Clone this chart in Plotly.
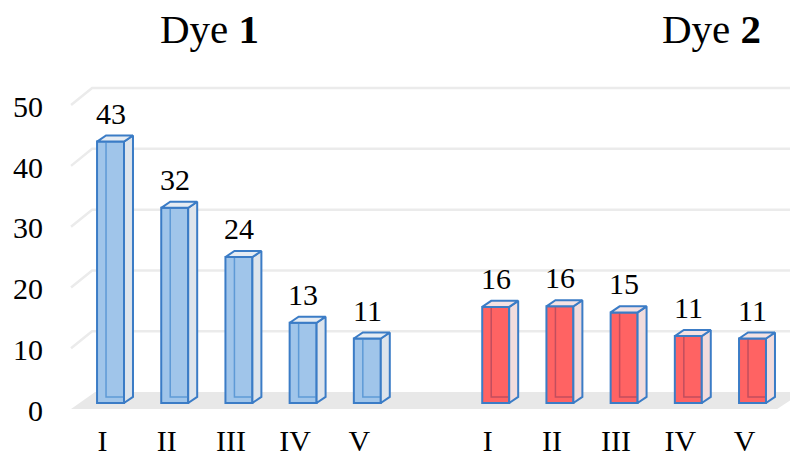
import plotly.graph_objects as go

# ---------------- data ----------------
groups = ["Dye 1", "Dye 2"]
categories = ["I", "II", "III", "IV", "V"]
dye1_values = [43.0, 32.1, 24.0, 13.2, 10.6]
dye2_values = [15.8, 15.9, 14.9, 11.0, 10.6]
y_ticks = [0, 10, 20, 30, 40, 50]

# ---------------- style / geometry ----------------
FONT = 'Liberation Serif, "Times New Roman", Times, serif'
BAR_W = 0.42          # front-face width (category units)
DEPTH_DX = 0.14       # bar depth offset, x (category units)
DEPTH_DY = 1.0        # bar depth offset, y (value units)
FRONT_DX, FRONT_DY = -0.125, -1.0   # label / floor-front plane offset
BACK_DY = 1.8                       # back-wall plane offset
X_MIN, X_MAX = -0.787, 10.584
Y_MIN, Y_MAX = -2.80, 53.95
GAP = 1  # empty slot between the two groups

styles = {
    "Dye 1": dict(front="#A0C5EA", side="#DDE4EC", top="#E6ECF3", inner="#5E9AD6"),
    "Dye 2": dict(front="#FF6363", side="#F1DCDD", top="#F4E2E3", inner="#C24E5E"),
}
EDGE = "#3B7CC6"

series = {"Dye 1": dye1_values, "Dye 2": dye2_values}

fig = go.Figure()

# positions of the categories
positions = {}
pos = 0
for g in groups:
    positions[g] = list(range(pos, pos + len(categories)))
    pos += len(categories) + GAP

# front faces (bars)
for g in groups:
    st = styles[g]
    fig.add_trace(go.Bar(
        x=positions[g], y=series[g], width=BAR_W, base=0,
        marker=dict(color=st["front"], line=dict(color=EDGE, width=2)),
        showlegend=False, hoverinfo="skip",
    ))

# 3-D faces (side, top) and hidden edges, computed from the data
for g in groups:
    st = styles[g]
    for xi, v in zip(positions[g], series[g]):
        xl, xr = xi - BAR_W / 2, xi + BAR_W / 2
        # hidden back edges seen through the face
        fig.add_trace(go.Scatter(
            x=[xl + DEPTH_DX, xl + DEPTH_DX, xr + DEPTH_DX],
            y=[v + DEPTH_DY, DEPTH_DY, DEPTH_DY],
            mode="lines", line=dict(color=st["inner"], width=1.5),
            showlegend=False, hoverinfo="skip"))
        # side face
        fig.add_trace(go.Scatter(
            x=[xr, xr + DEPTH_DX, xr + DEPTH_DX, xr, xr],
            y=[0, DEPTH_DY, v + DEPTH_DY, v, 0],
            mode="lines", fill="toself", fillcolor=st["side"],
            line=dict(color=EDGE, width=2),
            showlegend=False, hoverinfo="skip"))
        # top face
        fig.add_trace(go.Scatter(
            x=[xl, xr, xr + DEPTH_DX, xl + DEPTH_DX, xl],
            y=[v, v, v + DEPTH_DY, v + DEPTH_DY, v],
            mode="lines", fill="toself", fillcolor=st["top"],
            line=dict(color=EDGE, width=2),
            showlegend=False, hoverinfo="skip"))

# value labels
annotations = []
for g in groups:
    for xi, v in zip(positions[g], series[g]):
        annotations.append(dict(
            x=xi, y=v, xref="x", yref="y", text=f"{v:.0f}",
            showarrow=False, xanchor="center", yanchor="bottom",
            yshift=11, borderpad=0,
            font=dict(family=FONT, size=30, color="black")))

# group titles
title_x = {"Dye 1": 0.205, "Dye 2": 0.892}
for g in groups:
    name, num = g.split(" ")
    annotations.append(dict(
        x=title_x[g], y=1, xref="paper", yref="paper",
        text=f"{name} <b>{num}</b>", showarrow=False,
        xanchor="center", yanchor="bottom", yshift=22, borderpad=0,
        font=dict(family=FONT, size=41, color="black")))

# floor and back-wall gridlines
shapes = []
floor_path = (f"M {X_MIN + 0.172},{FRONT_DY} L {X_MIN + 0.547},{BACK_DY} "
              f"L {X_MAX + 0.2},{BACK_DY} L {X_MAX - 0.2},{FRONT_DY} Z")
shapes.append(dict(type="path", path=floor_path, xref="x", yref="y",
                   fillcolor="#E8E8E8", line=dict(width=0), layer="below"))
for t in y_ticks[1:]:
    path = (f"M {X_MIN + 0.172},{t + FRONT_DY} L {X_MIN + 0.5},{t + BACK_DY} "
            f"L {X_MAX},{t + BACK_DY}")
    shapes.append(dict(type="path", path=path, xref="x", yref="y",
                       line=dict(color="#EBEBEB", width=2.5), layer="below"))

tick_positions = [p + FRONT_DX for g in groups for p in positions[g]]
tick_text = [c for g in groups for c in categories]

fig.update_layout(
    width=790, height=457,
    margin=dict(l=60, r=0, t=75, b=37),
    paper_bgcolor="white", plot_bgcolor="white",
    showlegend=False, barmode="overlay",
    font=dict(family=FONT, size=30, color="black"),
    annotations=annotations, shapes=shapes,
    xaxis=dict(range=[X_MIN, X_MAX], tickvals=tick_positions, ticktext=tick_text,
               showgrid=False, zeroline=False, showline=False, ticks="",
               tickfont=dict(family=FONT, size=30, color="black"),
               ticklabelstandoff=0, automargin=False),
    yaxis=dict(range=[Y_MIN, Y_MAX], tickvals=[t - 1.2 for t in y_ticks],
               ticktext=[str(t) for t in y_ticks],
               showgrid=False, zeroline=False, showline=False, ticks="",
               tickfont=dict(family=FONT, size=30, color="black"),
               ticklabelstandoff=16, automargin=False),
)

fig.write_html("out.html", config={"displayModeBar": False},
               post_script="document.body.style.margin='0px';")
